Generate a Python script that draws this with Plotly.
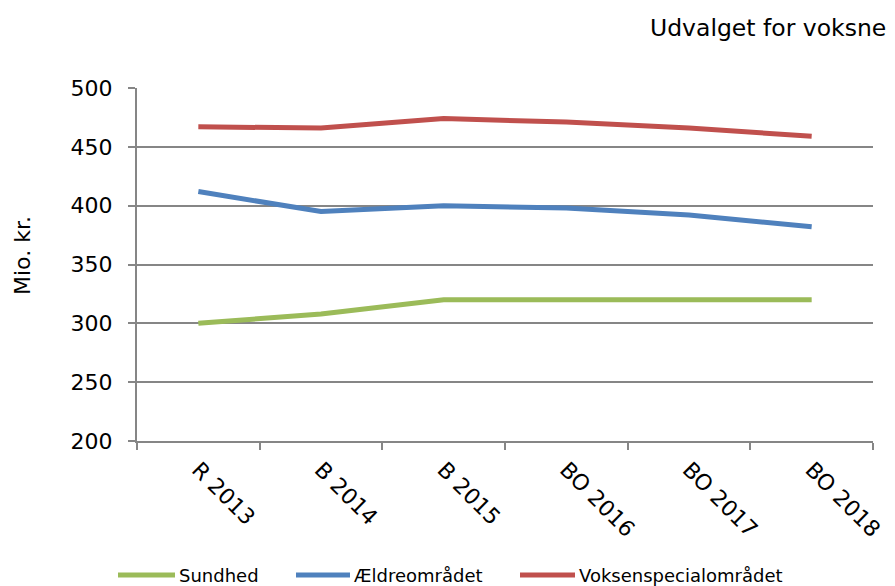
import plotly.graph_objects as go

categories = ["R 2013", "B 2014", "B 2015", "BO 2016", "BO 2017", "BO 2018"]
sundhed = [300, 308, 320, 320, 320, 320]
aeldre = [412, 395, 400, 398, 392, 382]
voksen = [467, 466, 474, 471, 466, 459]
series_names = ["Sundhed", "Ældreområdet", "Voksenspecialområdet"]
series_colors = ["#9BBB59", "#4F81BD", "#C0504D"]

# page body has an 8px margin, so the figure sits at (8, 8) in the window
OFF = 8
PL, PR, PT, PB = 137, 873, 88, 441  # plot area in window pixels


def px(x):
    return (x - PL) / (PR - PL)


def py(y):
    return (PB - y) / (PB - PT)


fig = go.Figure()
for name, vals, col in zip(series_names, [sundhed, aeldre, voksen], series_colors):
    fig.add_trace(go.Scatter(x=categories, y=vals, name=name, mode="lines",
                             line=dict(color=col, width=5), showlegend=False))

# legend drawn below the plot
legend_pos = [(118, 175), (296, 350), (520, 575)]
shapes = []
annotations = []
for (x0, x1), name, col in zip(legend_pos, series_names, series_colors):
    shapes.append(dict(type="line", xref="paper", yref="paper",
                       x0=px(x0), x1=px(x1), y0=py(575), y1=py(575),
                       line=dict(color=col, width=5)))
    annotations.append(dict(text=name, xref="paper", yref="paper",
                            x=px(x1 + 2), y=py(575), xanchor="left",
                            yanchor="middle", showarrow=False,
                            font=dict(size=18)))

annotations += [
    dict(text="Udvalget for voksne", xref="paper", yref="paper",
         x=px(888), y=py(28), xanchor="right", yanchor="middle",
         showarrow=False, font=dict(size=23.5)),
    dict(text="Mio. kr.", xref="paper", yref="paper",
         x=px(22), y=py(256), xanchor="center", yanchor="middle",
         textangle=-90, showarrow=False, font=dict(size=22)),
]

fig.update_layout(
    width=895, height=586,
    paper_bgcolor="white", plot_bgcolor="white",
    margin=dict(l=PL - OFF, r=895 + OFF - PR, t=PT - OFF, b=586 + OFF - PB,
                autoexpand=False),
    font=dict(family="DejaVu Sans", size=22, color="black"),
    showlegend=False,
    shapes=shapes,
    annotations=annotations,
)
fig.update_xaxes(type="category", tickangle=45, showgrid=False,
                 range=[-0.5, 5.5], automargin=False,
                 showline=True, linecolor="#868686", linewidth=2,
                 ticks="outside", tickson="boundaries", ticklen=7,
                 tickcolor="#868686", tickwidth=2, ticklabelstandoff=5,
                 tickfont=dict(size=22))
fig.update_yaxes(range=[200, 500], dtick=50, showgrid=True, automargin=False,
                 gridcolor="#868686", gridwidth=2,
                 showline=True, linecolor="#868686", linewidth=2,
                 ticks="outside", ticklen=7, tickcolor="#868686", tickwidth=2,
                 ticklabelstandoff=11,
                 tickfont=dict(size=22), zeroline=False)

fig.write_html("out.html")
